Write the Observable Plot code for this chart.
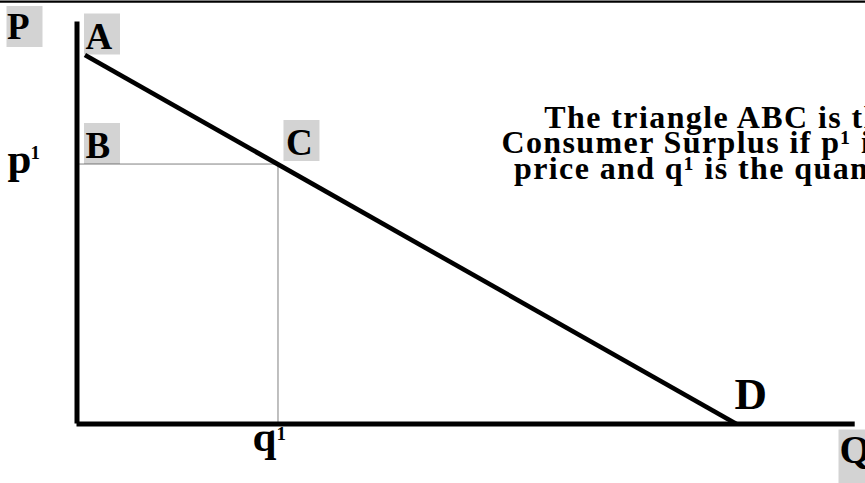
<!DOCTYPE html>
<html>
<head>
<meta charset="utf-8">
<script src="https://cdn.jsdelivr.net/npm/d3@7"></script>
<script src="https://cdn.jsdelivr.net/npm/@observablehq/plot@0.6"></script>
<style>
  html, body { margin: 0; padding: 0; background: #fff; overflow: hidden; }
  #chart svg { overflow: hidden; display: block; }
</style>
</head>
<body>
<div id="chart"></div>
<script>
// ---- data (economic units) ----
const pointNames = ["A", "B", "C", "D"];
const demandQ = [0.12, 10];      // A → D
const demandP = [9.88, 0];
const p1 = 6.96;                 // price
const q1 = 3.04;                 // quantity
const axisNames = ["P", "Q"];
const axisEndQ = 11.8;
const axisEndP = 10.76;
const priceLabel = ["p", "1"];
const qtyLabel = ["q", "1"];
const noteLines = [
  "The triangle ABC is the",
  "Consumer Surplus if p\u00B9 is the",
  "price and q\u00B9 is the quantity."
];

// ---- derived ----
const demand = demandQ.map((q, i) => ({q, p: demandP[i]}));
const A = demand[0], D = demand[1];
const B = {q: 0, p: p1};
const C = {q: q1, p: p1};

const X0 = 76.5, XU = 65.95, Y0 = 423.5, YU = 37.35;
const GRAY = "#d3d3d3";
const box = (w, h) => ({draw(ctx) { ctx.rect(-w / 2, -h / 2, w, h); }});

const letter = (pt, txt, dx, dy, size = 37) =>
  Plot.text([pt], {x: "q", y: "p", text: () => txt, dx, dy, textAnchor: "start",
    lineAnchor: "bottom", fontSize: size, fontWeight: "bold", fill: "black"});
const boxMark = (pt, dx, dy, w = 36, h = 41) =>
  Plot.dot([pt], {x: "q", y: "p", dx, dy, symbol: box(w, h), fill: GRAY, stroke: "none"});

const topP = {q: 0, p: axisEndP};
const endQ = {q: axisEndQ, p: 0};
const q1Base = {q: q1, p: 0};

const chart = Plot.plot({
  width: 865,
  height: 483,
  marginTop: 1.1, marginRight: 0, marginBottom: 0, marginLeft: 0,
  x: {domain: [0, 12], range: [X0, X0 + 12 * XU], axis: null},
  y: {domain: [0, 12], range: [Y0, Y0 - 12 * YU], axis: null},
  style: {fontFamily: "'Liberation Serif', 'Times New Roman', serif", background: "white", color: "black"},
  marks: [
    Plot.frame({anchor: "top", stroke: "black", strokeWidth: 2.4}),
    // gray label boxes
    boxMark(topP, -52.5, 4.3),
    boxMark(A, 17.1, -21.1),
    boxMark(B, 25, -20.6),
    boxMark(C, 24, -23.6),
    boxMark(endQ, 3.3, 33.5, 40, 56),
    // dotted guides
    Plot.ruleY([p1], {x1: 0, x2: q1, stroke: "#000", strokeWidth: 1, strokeDasharray: "1,1"}),
    Plot.ruleX([q1], {y1: 0, y2: p1, dx: 0.5, stroke: "#000", strokeWidth: 1, strokeDasharray: "1,1"}),
    // axes
    Plot.ruleX([0], {y1: 0, y2: axisEndP, stroke: "black", strokeWidth: 5}),
    Plot.ruleY([0], {x1: 0, x2: axisEndQ, stroke: "black", strokeWidth: 5}),
    // demand curve
    Plot.line(demand, {x: "q", y: "p", stroke: "black", strokeWidth: 4.6, strokeLinecap: "butt"}),
    // letters
    letter(topP, axisNames[0], -70, 17),
    letter(A, pointNames[0], 0.6, -6.3),
    letter(B, pointNames[1], 8.5, -6.3),
    letter(C, pointNames[2], 8.5, -8.8),
    letter(D, pointNames[3], -2, -15.3, 45),
    letter(endQ, axisNames[1], -15.7, 38.5, 40),
    // p1 and q1 labels
    letter(B, priceLabel[0], -69.5, 9, 43),
    letter(B, priceLabel[1], -46.5, -5, 19),
    letter(q1Base, qtyLabel[0], -25, 27, 43),
    letter(q1Base, qtyLabel[1], -1, 16, 19),
    // annotation
    Plot.text([noteLines.join("\n")], {x: 9.77, y: 6.55, textAnchor: "middle", lineAnchor: "bottom",
      lineHeight: 0.81, fontSize: 32, fontWeight: "bold", fill: "black"})
  ]
});
d3.select(chart).selectAll("text")
  .filter(function () { return this.textContent.startsWith(noteLines[0]); })
  .style("letter-spacing", "1.4px");
document.getElementById("chart").appendChild(chart);
</script>
</body>
</html>
